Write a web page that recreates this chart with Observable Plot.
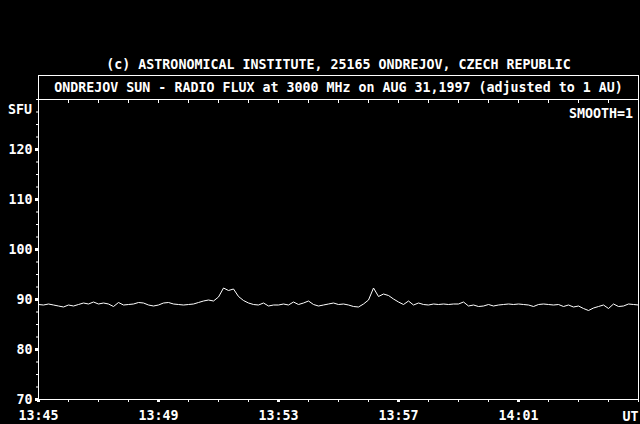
<!DOCTYPE html>
<html>
<head>
<meta charset="utf-8">
<script src="https://cdn.jsdelivr.net/npm/d3@7"></script>
<script src="https://cdn.jsdelivr.net/npm/@observablehq/plot@0.6"></script>
<style>
  html, body { margin: 0; padding: 0; background: #000; }
  #wrap { position: relative; width: 640px; height: 424px; background: #000; overflow: hidden; }
  .t { position: absolute; color: #fff; font-family: "DejaVu Sans Mono", "Liberation Mono", monospace; font-weight: bold; font-size: 13.3px; white-space: pre; line-height: 1; }
  #box { position: absolute; left: 38px; top: 75px; width: 601px; height: 25px; border: 1px solid #fff; border-bottom: none; box-sizing: border-box; }
</style>
</head>
<body>
<div id="wrap">
  <div id="plot"></div>
  <div class="t" id="title"></div>
  <div id="box"></div>
  <div class="t" id="subtitle"></div>
  <div class="t" id="unit"></div>
  <div class="t" id="smooth"></div>
</div>
<script>
const titleText = "(c) ASTRONOMICAL INSTITUTE, 25165 ONDREJOV, CZECH REPUBLIC";
const subtitleText = "ONDREJOV SUN - RADIO FLUX at 3000 MHz on AUG 31,1997 (adjusted to 1 AU)";
const unitLabel = "SFU";
const smoothLabel = "SMOOTH=1";
const endLabel = "UT";

// sampling: first sample time and interval (seconds)
const startTime = "1997-08-31T13:45:00Z";
const endTime = "1997-08-31T14:05:00Z";
const sampleSeconds = 10;

// radio flux (SFU), one value per sample
const flux = [
  89.0, 88.9, 89.1, 88.9, 88.7, 88.5, 88.9, 88.7, 89.0, 89.3, 89.1, 89.5, 89.1, 89.3, 89.1, 88.6, 89.4, 88.9, 89.0, 89.1,
  89.4, 89.3, 88.9, 88.7, 88.9, 89.3, 89.4, 89.1, 89.0, 88.9, 89.0, 89.1, 89.4, 89.7, 89.9, 89.7, 90.5, 92.3, 91.8, 92.1,
  90.6, 89.8, 89.3, 89.0, 88.9, 89.3, 88.7, 88.9, 88.9, 89.1, 88.9, 89.5, 89.0, 89.3, 89.7, 89.0, 88.7, 88.9, 89.1, 89.3,
  89.0, 89.1, 88.9, 88.6, 88.5, 89.1, 89.9, 92.3, 90.6, 91.1, 90.8, 90.1, 89.5, 89.0, 89.7, 88.9, 89.3, 89.0, 88.9, 89.1,
  89.0, 89.1, 89.0, 89.1, 89.1, 89.5, 88.7, 88.9, 88.6, 88.7, 89.0, 88.7, 88.9, 89.0, 89.1, 89.0, 89.1, 89.0, 88.9, 88.6,
  89.0, 89.1, 89.0, 88.9, 89.0, 88.6, 88.9, 88.5, 88.7, 88.2, 87.8, 88.3, 88.6, 88.9, 88.2, 89.1, 88.6, 88.7, 89.1, 89.0, 88.9
];

const yMajorTicks = [70, 80, 90, 100, 110, 120];
const yDomain = [70, 130];
const xMajorMinutes = [0, 4, 8, 12, 16];   // 13:45, 13:49, 13:53, 13:57, 14:01

const t0 = new Date(startTime);
const t1 = new Date(endTime);
const data = flux.map((v, i) => ({ time: new Date(t0.getTime() + i * sampleSeconds * 1000), flux: v }));

const majorX = xMajorMinutes.map(m => new Date(t0.getTime() + m * 60000));
const minorX = d3.range(0, 21).map(m => new Date(t0.getTime() + m * 60000));
const minorY = d3.range(yDomain[0], yDomain[1] + 0.01, 2.5);
const font = '"DejaVu Sans Mono", "Liberation Mono", monospace';

const chart = Plot.plot({
  width: 640,
  height: 424,
  marginTop: 99,
  marginLeft: 38,
  marginRight: 2,
  marginBottom: 25,
  style: { background: "black", color: "white", fontFamily: font, fontSize: "13.3px", fontWeight: "bold" },
  x: { type: "utc", domain: [t0, t1] },
  y: { domain: yDomain },
  marks: [
    Plot.axisY({ ticks: minorY, tickSize: 2, text: null, label: null, stroke: "white", strokeOpacity: 1 }),
    Plot.axisY({ ticks: yMajorTicks, tickSize: 3, strokeWidth: 3, tickPadding: 3, stroke: "white", strokeOpacity: 1, fill: "white", label: null, fontSize: "13.3px" }),
    Plot.axisX({ ticks: minorX, tickSize: 3, text: null, label: null, stroke: "white", strokeOpacity: 1 }),
    Plot.axisX({ ticks: majorX, tickSize: 3, strokeWidth: 3, tickPadding: 8, tickFormat: d3.utcFormat("%H:%M"), stroke: "white", strokeOpacity: 1, fill: "white", label: null, fontSize: "13.3px" }),
    Plot.axisX({ anchor: "top", ticks: minorX, tickSize: -3, text: null, stroke: "white", strokeOpacity: 1, label: null }),
    Plot.text([endLabel], { x: () => t1, y: () => yDomain[0], text: d => d, dy: 17, textAnchor: "end", fill: "white", fontSize: 13.3 }),
    Plot.line(data, { x: "time", y: "flux", stroke: "white", strokeWidth: 1 }),
    Plot.frame({ stroke: "white" })
  ]
});
document.getElementById("plot").appendChild(chart);

function place(id, text, x, y, anchor) {
  const el = document.getElementById(id);
  el.textContent = text;
  el.style.top = y + "px";
  if (anchor === "center") { el.style.left = "38px"; el.style.width = "601px"; el.style.textAlign = "center"; }
  else if (anchor === "right") { el.style.right = (640 - x) + "px"; }
  else { el.style.left = x + "px"; }
}
place("title", titleText, 0, 58, "center");
place("subtitle", subtitleText, 0, 81, "center");
place("unit", unitLabel, 8, 103, "left");
place("smooth", smoothLabel, 633, 107, "right");
</script>
</body>
</html>
